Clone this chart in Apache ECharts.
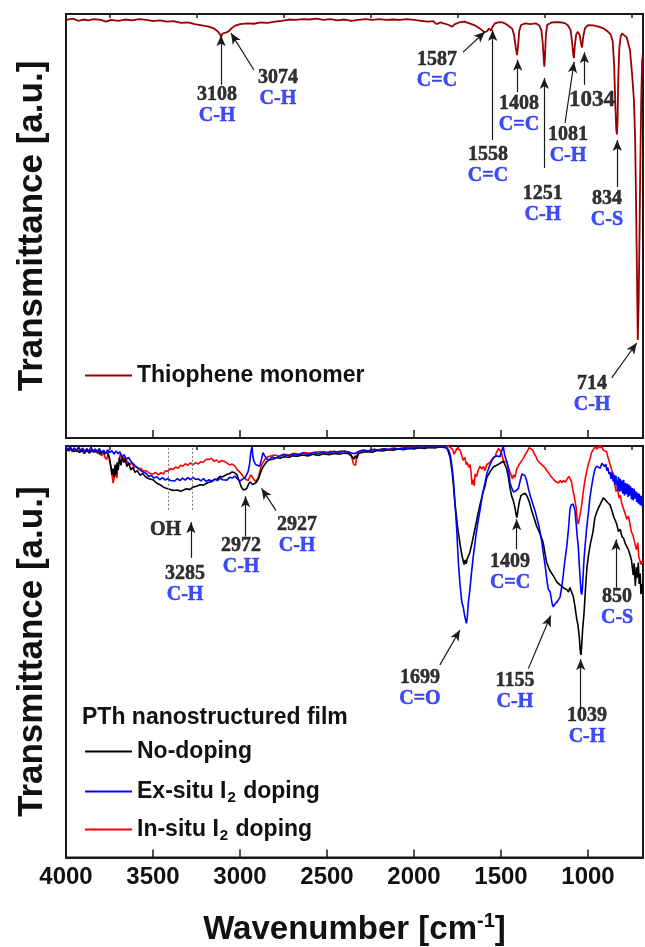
<!DOCTYPE html>
<html>
<head>
<meta charset="utf-8">
<script src="https://cdn.jsdelivr.net/npm/echarts@6/dist/echarts.min.js"></script>
<style>html,body{margin:0;padding:0;background:#fff}#c{width:645px;height:947px}</style>
</head>
<body>
<div id="c"></div>
<script>
// ---- axis ticks ----
const majorTicks = [4000, 3500, 3000, 2500, 2000, 1500, 1000];
const minorTicks = [3750, 3250, 2750, 2250, 1750, 1250, 750];

// ---- spectra: [wavenumber, transmittance (a.u.)] ----
const monomer = [[4000,98.6],[3960,98.9],[3930,98.4],[3900,98.7],[3870,98.5],[3840,98.8],[3800,98.6],[3770,98.2],[3740,98.6],[3700,98.4],[3660,98.7],[3620,98.5],[3580,98.8],[3540,98.6],[3500,98.3],[3460,98.5],[3420,98.2],[3380,98.3],[3340,97.9],[3300,98.0],[3260,97.6],[3220,97.3],[3180,97.0],[3150,96.6],[3130,96.0],[3115,95.2],[3108,94.7],[3100,95.4],[3090,95.8],[3082,95.6],[3074,95.2],[3065,95.9],[3050,96.6],[3030,97.2],[3000,97.6],[2960,97.8],[2920,97.7],[2880,98.0],[2840,97.9],[2800,98.2],[2760,98.4],[2720,98.7],[2680,98.6],[2640,98.8],[2600,98.7],[2560,98.9],[2520,98.6],[2480,98.8],[2440,98.5],[2400,98.7],[2360,98.4],[2320,98.6],[2280,98.8],[2240,98.6],[2200,98.8],[2160,98.6],[2120,98.7],[2080,98.6],[2040,98.8],[2000,98.6],[1960,98.4],[1920,98.2],[1890,98.3],[1870,97.6],[1850,98.0],[1820,97.7],[1800,97.4],[1782,97.0],[1765,97.6],[1740,98.0],[1710,98.2],[1690,97.9],[1670,97.6],[1650,97.3],[1630,96.8],[1610,96.2],[1595,95.7],[1587,95.4],[1578,96.0],[1570,96.6],[1558,96.1],[1548,97.0],[1535,97.8],[1510,98.1],[1490,98.0],[1470,97.6],[1450,97.0],[1435,96.5],[1425,95.0],[1415,92.0],[1408,90.3],[1402,92.5],[1395,96.0],[1385,97.4],[1360,97.8],[1330,97.6],[1300,97.8],[1280,97.3],[1268,96.2],[1260,93.0],[1254,89.0],[1251,87.6],[1248,89.5],[1242,95.0],[1235,97.4],[1210,98.0],[1180,98.1],[1150,98.0],[1130,97.8],[1115,97.3],[1100,96.2],[1092,93.5],[1085,90.5],[1081,89.6],[1076,92.5],[1068,95.2],[1058,95.8],[1048,95.0],[1040,93.0],[1034,92.1],[1028,94.5],[1018,96.6],[1000,97.4],[970,97.3],[940,97.0],[910,96.6],[885,95.8],[870,95.2],[858,93.5],[850,88.0],[844,80.0],[838,73.0],[834,71.6],[830,75.0],[826,85.0],[820,92.0],[812,94.8],[805,95.4],[790,94.9],[778,94.5],[768,93.0],[759,91.5],[748,86.5],[736,79.7],[729,70.0],[724,56.0],[719,40.0],[714,23.1],[709,32.0],[704,48.0],[699,66.0],[694,80.0],[689,89.0],[685,90.6]];

const noDoping = [[4000,99.6],[3985,98.8],[3970,99.4],[3955,98.6],[3940,99.2],[3925,98.4],[3910,99.0],[3895,98.2],[3880,98.9],[3865,98.3],[3850,99.1],[3835,98.5],[3820,98.9],[3805,98.0],[3790,98.7],[3775,98.1],[3762,98.6],[3750,97.0],[3742,95.0],[3736,93.0],[3730,94.5],[3724,92.4],[3718,95.5],[3712,93.0],[3706,96.0],[3700,94.2],[3692,97.2],[3684,95.3],[3676,97.6],[3668,96.0],[3660,96.8],[3650,95.0],[3640,96.0],[3628,94.2],[3615,94.8],[3603,93.6],[3590,94.0],[3575,92.9],[3560,93.3],[3540,92.4],[3520,92.0],[3500,91.8],[3480,91.0],[3460,90.6],[3440,90.0],[3420,89.7],[3400,89.4],[3380,89.2],[3360,89.3],[3340,89.0],[3320,89.4],[3305,89.6],[3290,89.4],[3270,90.0],[3250,90.2],[3230,90.6],[3210,90.5],[3190,91.0],[3170,91.3],[3150,91.8],[3130,92.0],[3115,92.6],[3100,92.5],[3080,93.0],[3060,93.3],[3046,93.7],[3030,93.5],[3017,93.0],[3005,91.5],[2992,90.0],[2980,89.3],[2972,88.9],[2962,89.6],[2952,90.6],[2943,91.3],[2935,91.0],[2927,90.6],[2918,90.9],[2905,91.2],[2890,92.5],[2878,94.0],[2868,94.9],[2850,96.0],[2833,96.6],[2810,96.8],[2790,97.2],[2770,97.0],[2747,97.4],[2720,97.2],[2700,97.6],[2670,97.5],[2640,97.8],[2610,97.6],[2580,98.0],[2550,97.7],[2520,98.1],[2490,97.9],[2460,98.2],[2430,98.0],[2400,98.3],[2375,98.1],[2355,97.4],[2345,96.8],[2338,97.6],[2328,97.0],[2318,98.2],[2300,98.4],[2270,98.6],[2240,98.5],[2213,98.9],[2180,98.8],[2150,99.1],[2120,99.0],[2090,99.3],[2060,99.1],[2030,99.4],[2000,99.3],[1970,99.6],[1940,99.4],[1910,99.7],[1880,99.5],[1850,99.8],[1827,99.7],[1810,99.5],[1793,97.3],[1780,93.5],[1764,85.7],[1750,80.5],[1736,76.3],[1725,73.5],[1717,72.0],[1712,71.2],[1706,72.3],[1700,71.4],[1694,72.6],[1688,72.8],[1680,74.0],[1670,75.8],[1659,78.0],[1645,80.8],[1633,83.4],[1621,85.7],[1605,88.5],[1590,90.6],[1582,92.3],[1565,93.6],[1544,94.9],[1525,95.3],[1505,95.8],[1487,96.3],[1475,95.2],[1467,94.4],[1458,92.5],[1448,89.7],[1438,87.7],[1429,86.7],[1420,85.0],[1414,83.5],[1409,82.6],[1404,84.0],[1395,86.4],[1385,88.0],[1375,88.3],[1362,88.5],[1350,87.8],[1338,86.5],[1324,84.3],[1310,82.5],[1295,80.5],[1276,78.7],[1258,76.6],[1238,71.7],[1220,69.8],[1200,68.5],[1180,67.0],[1160,66.2],[1140,65.5],[1122,65.1],[1112,64.5],[1104,65.6],[1094,65.6],[1085,63.5],[1075,61.0],[1065,58.0],[1058,56.5],[1050,53.5],[1044,50.0],[1040,49.2],[1035,52.5],[1030,56.0],[1023,59.3],[1015,65.0],[1006,70.5],[998,73.3],[985,76.5],[972,79.0],[960,82.7],[945,84.5],[930,85.8],[912,87.4],[900,86.9],[886,86.2],[874,85.7],[862,84.2],[850,82.5],[842,81.8],[835,81.0],[825,79.2],[815,79.8],[805,78.0],[795,77.5],[785,76.2],[778,76.3],[768,74.8],[758,73.5],[750,72.2],[744,70.0],[740,68.6],[735,71.5],[728,66.0],[722,70.5],[716,68.0],[711,71.7],[706,66.5],[700,69.0],[696,64.0],[692,64.6],[688,66.5]];

const exSitu = [[4000,99.8],[3988,99.0],[3976,100.0],[3964,98.8],[3952,99.6],[3940,98.6],[3928,99.8],[3916,98.9],[3904,99.5],[3892,98.4],[3880,99.3],[3868,98.7],[3856,99.7],[3844,98.5],[3832,99.2],[3820,98.6],[3808,99.4],[3796,98.3],[3784,99.0],[3772,98.2],[3760,99.1],[3748,98.4],[3736,98.9],[3724,98.0],[3712,98.8],[3700,98.1],[3690,98.6],[3678,97.4],[3666,97.9],[3654,96.8],[3640,97.2],[3626,96.2],[3612,95.6],[3598,95.0],[3584,94.6],[3570,94.0],[3555,93.6],[3540,93.4],[3525,92.6],[3510,92.9],[3495,92.2],[3477,92.5],[3460,91.8],[3445,92.3],[3430,91.7],[3415,92.1],[3400,91.6],[3391,92.0],[3375,91.5],[3360,92.1],[3345,91.6],[3330,92.2],[3315,91.7],[3300,92.3],[3284,91.8],[3270,92.4],[3255,91.9],[3240,92.0],[3225,91.5],[3210,92.1],[3195,91.4],[3178,91.8],[3160,91.3],[3145,92.0],[3130,91.6],[3115,92.2],[3100,91.8],[3092,92.0],[3075,91.7],[3060,92.4],[3045,92.2],[3029,92.7],[3015,92.0],[3000,91.5],[2983,92.0],[2970,92.4],[2960,93.2],[2954,93.7],[2945,95.5],[2938,98.5],[2931,99.8],[2926,97.5],[2920,96.3],[2910,95.5],[2900,95.8],[2887,95.1],[2878,96.5],[2868,98.4],[2858,97.6],[2845,96.8],[2833,96.7],[2815,97.3],[2795,97.0],[2770,97.6],[2747,97.9],[2720,97.6],[2695,98.1],[2670,97.8],[2640,98.3],[2610,98.0],[2580,98.4],[2550,98.1],[2520,98.6],[2490,98.3],[2460,98.7],[2430,98.4],[2400,98.8],[2370,98.5],[2345,98.1],[2320,98.6],[2290,99.0],[2260,98.8],[2230,99.2],[2200,99.0],[2170,99.3],[2140,99.1],[2110,99.4],[2080,99.2],[2050,99.5],[2020,99.4],[1990,99.7],[1960,99.5],[1930,99.8],[1900,99.6],[1870,99.8],[1840,99.7],[1815,99.6],[1800,99.0],[1790,97.5],[1782,95.0],[1774,92.0],[1765,86.5],[1755,80.0],[1745,71.7],[1735,66.0],[1725,62.0],[1717,60.9],[1710,59.0],[1704,57.8],[1699,56.9],[1694,58.2],[1688,61.8],[1680,64.6],[1670,69.0],[1659,73.3],[1645,78.0],[1633,81.4],[1621,84.3],[1605,88.6],[1590,91.4],[1582,93.2],[1565,95.3],[1544,97.2],[1525,97.6],[1506,97.4],[1496,98.8],[1487,100.0],[1480,98.0],[1475,97.2],[1467,96.3],[1458,94.6],[1448,91.0],[1438,89.8],[1428,88.8],[1420,88.5],[1412,89.2],[1400,89.7],[1390,91.5],[1380,93.2],[1372,93.4],[1362,92.8],[1352,91.5],[1343,89.7],[1330,87.6],[1318,86.0],[1305,84.3],[1295,82.7],[1285,81.0],[1275,79.0],[1265,76.5],[1257,74.0],[1245,70.5],[1235,67.0],[1228,65.2],[1218,64.6],[1210,62.6],[1205,61.5],[1199,60.9],[1193,61.4],[1185,61.8],[1175,62.3],[1168,62.5],[1161,63.2],[1150,66.0],[1140,69.5],[1132,72.5],[1122,75.6],[1112,80.0],[1104,84.5],[1098,85.6],[1094,85.4],[1086,85.9],[1080,85.2],[1075,84.3],[1068,81.0],[1062,78.0],[1056,75.6],[1050,71.0],[1044,67.0],[1040,64.5],[1036,63.9],[1032,65.5],[1027,69.5],[1022,73.0],[1017,75.6],[1008,80.0],[998,83.7],[989,87.4],[980,90.0],[970,92.5],[960,94.4],[950,95.1],[940,95.5],[930,94.6],[920,95.8],[912,96.0],[905,95.0],[898,95.6],[892,94.0],[886,94.8],[880,93.2],[874,93.7],[868,92.0],[862,93.6],[856,91.4],[850,93.0],[845,90.6],[840,92.8],[835,91.3],[830,89.2],[825,92.5],[820,88.9],[815,92.0],[810,89.0],[805,91.6],[800,88.4],[795,91.8],[790,88.0],[785,91.0],[780,88.3],[775,90.8],[770,87.6],[765,90.6],[760,87.9],[755,90.2],[750,87.0],[745,89.8],[740,86.8],[735,89.6],[730,87.2],[725,89.0],[720,86.4],[715,88.6],[710,86.0],[705,88.4],[700,85.6],[695,87.9],[690,85.4],[686,86.5]];

const inSitu = [[4000,99.7],[3988,98.9],[3976,99.5],[3964,98.6],[3952,99.3],[3940,98.7],[3928,99.6],[3916,98.5],[3904,99.2],[3892,98.8],[3880,99.4],[3868,98.3],[3856,99.0],[3844,98.6],[3832,99.3],[3820,98.2],[3808,98.9],[3796,97.6],[3784,98.4],[3775,97.2],[3767,96.7],[3757,98.0],[3747,98.4],[3738,94.0],[3730,91.0],[3724,90.9],[3716,93.5],[3708,92.2],[3701,95.1],[3694,96.8],[3688,98.0],[3680,98.4],[3670,96.5],[3660,97.2],[3649,96.3],[3636,95.5],[3622,95.8],[3608,94.9],[3595,95.0],[3586,94.4],[3570,94.6],[3555,93.9],[3540,94.0],[3520,93.4],[3500,93.2],[3485,93.6],[3470,93.0],[3455,93.5],[3440,93.2],[3428,94.0],[3414,93.9],[3400,94.5],[3385,94.3],[3370,94.9],[3355,94.6],[3342,95.3],[3328,95.1],[3314,95.7],[3300,95.3],[3285,95.9],[3270,95.4],[3255,96.0],[3241,95.6],[3226,96.2],[3212,96.0],[3195,96.8],[3178,96.7],[3164,97.0],[3150,96.3],[3135,96.6],[3120,96.0],[3105,96.5],[3092,96.3],[3076,95.9],[3060,95.4],[3045,95.6],[3029,95.1],[3015,94.2],[3000,93.6],[2983,92.7],[2970,92.0],[2960,91.7],[2954,91.6],[2945,92.4],[2938,93.0],[2931,93.2],[2922,92.0],[2912,91.4],[2905,91.2],[2897,92.0],[2888,93.5],[2878,95.2],[2868,96.0],[2855,96.9],[2840,97.4],[2820,97.6],[2800,97.8],[2775,97.5],[2750,98.0],[2720,97.8],[2690,98.2],[2660,98.0],[2630,98.4],[2600,98.2],[2570,98.5],[2540,98.6],[2510,98.3],[2480,98.7],[2450,98.5],[2420,98.8],[2390,98.6],[2365,98.3],[2355,96.8],[2348,95.6],[2342,96.0],[2336,95.3],[2330,97.5],[2322,98.6],[2300,98.9],[2270,98.8],[2240,99.1],[2210,99.0],[2180,99.3],[2150,99.2],[2120,99.5],[2090,99.3],[2060,99.6],[2030,99.5],[2000,99.7],[1970,99.6],[1940,99.8],[1910,99.6],[1880,99.8],[1850,99.9],[1820,99.7],[1805,100.0],[1790,99.6],[1778,99.2],[1770,98.0],[1762,98.6],[1755,99.4],[1745,99.0],[1736,99.1],[1728,98.0],[1718,96.5],[1708,97.2],[1700,95.5],[1694,96.0],[1686,94.8],[1678,95.5],[1672,93.5],[1667,90.6],[1660,91.8],[1654,90.3],[1649,93.2],[1640,92.6],[1632,94.0],[1621,95.1],[1610,94.4],[1600,95.0],[1592,94.0],[1582,95.5],[1570,95.8],[1556,96.5],[1546,96.7],[1535,97.4],[1524,98.6],[1514,99.4],[1506,99.6],[1498,98.4],[1490,97.0],[1483,96.3],[1475,96.0],[1467,96.0],[1458,94.8],[1448,93.6],[1440,92.7],[1434,92.0],[1428,93.0],[1420,92.4],[1410,94.4],[1400,95.2],[1385,96.2],[1372,97.0],[1360,98.0],[1348,98.8],[1338,99.6],[1328,99.8],[1318,99.0],[1310,98.2],[1300,97.5],[1290,96.5],[1280,96.0],[1270,96.3],[1257,95.1],[1245,94.6],[1235,93.9],[1225,93.4],[1215,92.7],[1204,92.2],[1199,92.0],[1190,91.5],[1180,91.8],[1170,91.0],[1160,91.6],[1149,91.1],[1142,91.6],[1130,91.2],[1120,92.0],[1110,92.6],[1103,92.7],[1096,91.5],[1090,90.0],[1082,88.3],[1075,88.1],[1068,85.0],[1062,82.0],[1056,81.0],[1050,80.6],[1045,83.5],[1040,84.8],[1036,85.7],[1030,88.0],[1022,90.5],[1015,92.3],[1008,93.7],[998,95.6],[989,96.7],[980,98.4],[970,99.1],[960,99.8],[948,99.2],[940,100.0],[931,99.5],[922,100.0],[912,99.0],[902,98.9],[893,98.6],[885,97.2],[875,95.8],[865,94.3],[855,93.2],[847,90.8],[839,89.0],[830,89.5],[822,87.4],[814,88.0],[806,86.0],[798,85.0],[790,84.0],[782,83.6],[776,82.2],[768,83.0],[759,81.0],[750,79.0],[742,78.4],[735,77.0],[728,76.8],[721,74.8],[714,76.5],[708,73.0],[701,72.8],[695,71.2],[690,72.0],[686,71.5]];

// ---- peak annotations (data coordinates: label centre, arrow tail, arrow tip) ----
const topNotes = [
  {at:[3132,78.5], num:'3108', grp:'C-H', from:[3109,83.3], to:[3109,95.0]},
  {at:[2782,82.4], num:'3074', grp:'C-H', from:[2920,86.8], to:[3052,95.5]},
  {at:[1868,86.6], num:'1587', grp:'C=C', from:[1718,91.0], to:[1592,95.8]},
  {at:[1575,64.4], num:'1558', grp:'C=C', from:[1548,70.3], to:[1548,96.2]},
  {at:[1397,76.3], num:'1408', grp:'C=C', from:[1404,81.6], to:[1404,89.2]},
  {at:[1260,55.2], num:'1251', grp:'C-H', from:[1251,63.7], to:[1251,84.9]},
  {at:[1115,69.1], num:'1081', grp:'C-H', from:[1132,74.3], to:[1080,88.7]},
  {at:[977,79.7],  num:'1034', grp:'',    from:[1021,83.3], to:[1021,91.0]},
  {at:[891,54.0],  num:'834',  grp:'C-S', from:[832,59.2],  to:[832,70.3]},
  {at:[977,10.3],  num:'714',  grp:'C-H', from:[864,14.2],  to:[720,22.4]}
];
const bottomNotes = [
  {at:[3316,66.5], num:'3285', grp:'C-H', from:[3282,72.8], to:[3282,81.5]},
  {at:[2994,73.3], num:'2972', grp:'C-H', from:[2968,78.0], to:[2968,87.8]},
  {at:[2672,78.3], num:'2927', grp:'C-H', from:[2793,84.3], to:[2876,89.7]},
  {at:[1966,41.1], num:'1699', grp:'C=O', from:[1851,46.8], to:[1736,55.3]},
  {at:[1448,69.2], num:'1409', grp:'C=C', from:[1410,74.9], to:[1410,82.2]},
  {at:[1420,40.3], num:'1155', grp:'C-H', from:[1343,45.9], to:[1214,58.8]},
  {at:[1006,31.9], num:'1039', grp:'C-H', from:[1042,35.8], to:[1042,48.2]},
  {at:[833,60.9],  num:'850',  grp:'C-S', from:[839,65.6],  to:[839,77.3]}
];
const ohNote = {at:[3428,79.6], text:'OH'};
const ohGuides = [[3414,84.5,99.5],[3273,84.5,99.5]];

// ---- styling ----
const SANS = 'Liberation Sans';
const SERIF = 'Liberation Serif';
const BLUE_TXT = '#1020f5';
const X_MIN = 684, X_MAX = 4000;

const noteRich = {
  n: {fontFamily: SERIF, fontWeight: 'bold', fontSize: 20, color: '#000', lineHeight: 21, textBorderColor: '#000', textBorderWidth: 0.5},
  a: {fontFamily: SERIF, fontWeight: 'bold', fontSize: 20, color: BLUE_TXT, lineHeight: 21, textBorderColor: BLUE_TXT, textBorderWidth: 0.5},
  b: {fontFamily: SERIF, fontWeight: 'bold', fontSize: 23, color: '#000', lineHeight: 24, textBorderColor: '#000', textBorderWidth: 0.5}
};
function noteLabels(notes) {
  return notes.map(n => ({
    value: n.at,
    label: {formatter: n.grp ? '{n|' + n.num + '}\n{a|' + n.grp + '}' : '{b|' + n.num + '}'}
  }));
}
function arrows(notes) {
  return notes.map(n => [{coord: n.from}, {coord: n.to}]);
}
const arrowMark = (notes) => ({
  silent: true, animation: false, symbol: ['none', 'arrow'], symbolSize: [7, 11],
  label: {show: false}, emphasis: {disabled: true},
  lineStyle: {color: '#1a1a1a', width: 1.2, type: 'solid'},
  data: arrows(notes)
});

function xAxes(gridIndex, withLabels) {
  const base = {gridIndex, type: 'value', min: X_MIN, max: X_MAX, inverse: true, splitLine: {show: false}};
  return [
    Object.assign({}, base, {
      axisLine: {show: true, lineStyle: {color: '#1a1a1a', width: 2}},
      axisTick: {show: true, inside: true, length: 8, customValues: majorTicks, lineStyle: {color: '#1a1a1a', width: 1.5}},
      axisLabel: withLabels ? {show: true, customValues: majorTicks, margin: 8, formatter: (v) => String(v),
        fontFamily: SANS, fontWeight: 'bold', fontSize: 24, color: '#111'} : {show: false},
      name: withLabels ? '{t|Wavenumber [cm}{s|-1}{t|]}' : '',
      nameLocation: 'middle', nameGap: 54,
      nameTextStyle: {rich: {
        t: {fontFamily: SANS, fontWeight: 'bold', fontSize: 33, color: '#111', lineHeight: 36},
        s: {fontFamily: SANS, fontWeight: 'bold', fontSize: 20, color: '#111', verticalAlign: 'top', lineHeight: 36}
      }}
    }),
    Object.assign({}, base, {
      axisLine: {show: false},
      axisTick: {show: true, inside: true, length: 4, customValues: minorTicks, lineStyle: {color: '#1a1a1a', width: 1.5}},
      axisLabel: {show: false}
    })
  ];
}
function yAxis(gridIndex) {
  return {
    gridIndex, type: 'value', min: 0, max: 100,
    axisLine: {show: false}, axisTick: {show: false}, axisLabel: {show: false}, splitLine: {show: false},
    name: 'Transmittance [a.u.]', nameLocation: 'middle', nameRotate: 90, nameGap: 16,
    nameTextStyle: {fontFamily: SANS, fontWeight: 'bold', fontSize: 35, color: '#111'}
  };
}
const legendText = {fontFamily: SANS, fontWeight: 'bold', fontSize: 23, color: '#111'};
const legendRich = {
  t: {fontFamily: SANS, fontWeight: 'bold', fontSize: 23, color: '#111', lineHeight: 28},
  sub: {fontFamily: SANS, fontWeight: 'bold', fontSize: 15, color: '#111', verticalAlign: 'bottom', lineHeight: 13, padding: [0, 1, 0, 1]}
};
const legendFmt = (name) => name.replace(/^(.*) I2 (.*)$/, '{t|$1 I}{sub|2}{t| $2}').replace(/^([^{].*)$/, '{t|$1}');
function legendItem(name, top) {
  return {
    data: [name], left: 80, top, orient: 'vertical', icon: 'rect', itemWidth: 47, itemHeight: 2,
    selectedMode: false, formatter: legendFmt, textStyle: Object.assign({}, legendText, {rich: legendRich})
  };
}

const chart = echarts.init(document.getElementById('c'), null, {renderer: 'canvas'});
chart.setOption({
  animation: false,
  backgroundColor: '#fff',
  grid: [
    {left: 66, right: 2, top: 14, height: 424, show: true, borderColor: '#1a1a1a', borderWidth: 2, backgroundColor: 'transparent'},
    {left: 66, right: 2, top: 446, height: 427, show: true, borderColor: '#1a1a1a', borderWidth: 2, backgroundColor: 'transparent'}
  ],
  xAxis: [].concat(xAxes(0, false), xAxes(1, true)),
  yAxis: [yAxis(0), yAxis(1)],
  legend: [
    legendItem('Thiophene monomer', 359),
    legendItem('No-doping', 735),
    legendItem('Ex-situ I2 doping', 775),
    legendItem('In-situ I2 doping', 813)
  ],
  graphic: [{
    type: 'text', left: 82, top: 706,
    style: {text: 'PTh nanostructured film', font: 'bold 23px "Liberation Sans"', fill: '#111'}
  }],
  series: [
    {name: 'Thiophene monomer', type: 'line', xAxisIndex: 0, yAxisIndex: 0, data: monomer, symbol: 'none',
     lineStyle: {color: '#990000', width: 1.8}, itemStyle: {color: '#990000'}, z: 3,
     markLine: arrowMark(topNotes)},
    {name: 'In-situ I2 doping', type: 'line', xAxisIndex: 2, yAxisIndex: 1, data: inSitu, symbol: 'none',
     lineStyle: {color: '#ff0000', width: 1.6}, itemStyle: {color: '#ff0000'}, z: 2},
    {name: 'No-doping', type: 'line', xAxisIndex: 2, yAxisIndex: 1, data: noDoping, symbol: 'none',
     lineStyle: {color: '#000000', width: 1.6}, itemStyle: {color: '#000000'}, z: 3,
     markLine: arrowMark(bottomNotes)},
    {name: 'Ex-situ I2 doping', type: 'line', xAxisIndex: 2, yAxisIndex: 1, data: exSitu, symbol: 'none',
     lineStyle: {color: '#0000ff', width: 1.6}, itemStyle: {color: '#0000ff'}, z: 4},
    {name: 'oh-guides', type: 'line', xAxisIndex: 2, yAxisIndex: 1, data: [], symbol: 'none', silent: true,
     markLine: {silent: true, animation: false, symbol: ['none', 'none'], label: {show: false},
       lineStyle: {color: '#777', width: 1, type: [2, 2]},
       data: ohGuides.map(g => [{coord: [g[0], g[1]]}, {coord: [g[0], g[2]]}])}},
    {name: 'top-notes', type: 'scatter', xAxisIndex: 0, yAxisIndex: 0, symbolSize: 1, silent: true,
     itemStyle: {color: 'rgba(0,0,0,0)'}, z: 6,
     label: {show: true, position: 'inside', align: 'center', rich: noteRich},
     data: noteLabels(topNotes)},
    {name: 'bottom-notes', type: 'scatter', xAxisIndex: 2, yAxisIndex: 1, symbolSize: 1, silent: true,
     itemStyle: {color: 'rgba(0,0,0,0)'}, z: 6,
     label: {show: true, position: 'inside', align: 'center', rich: noteRich},
     data: noteLabels(bottomNotes).concat([{value: ohNote.at, label: {formatter: '{n|' + ohNote.text + '}'}}])}
  ]
});
</script>
</body>
</html>
